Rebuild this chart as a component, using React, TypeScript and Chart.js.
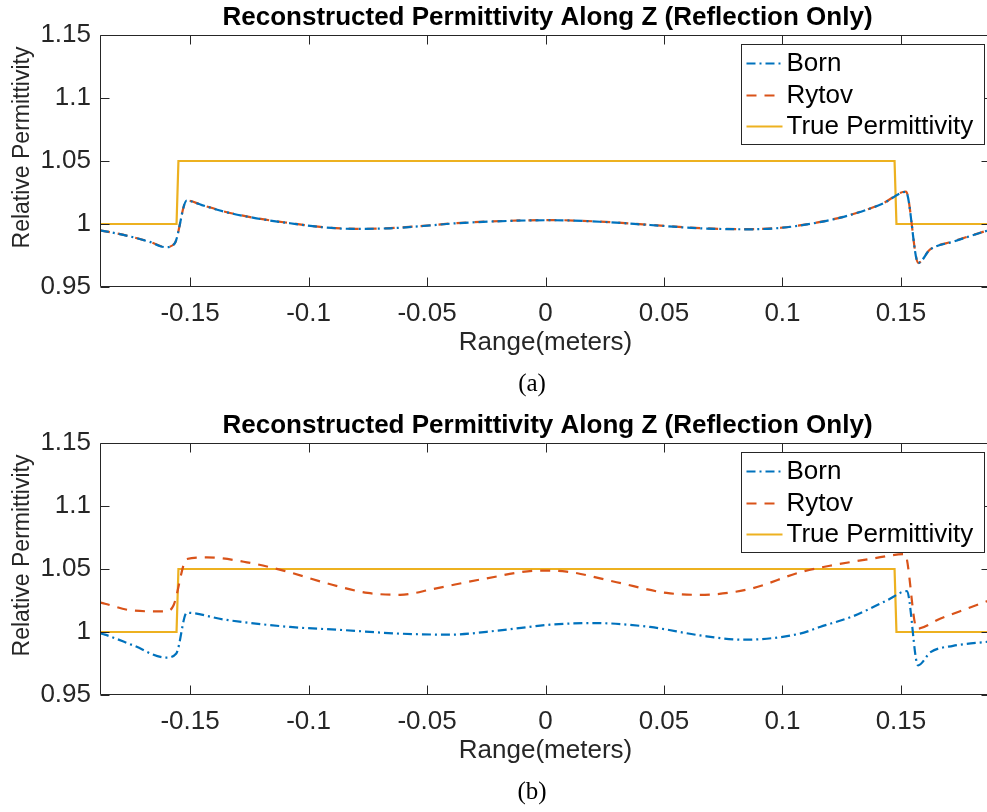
import React, { useEffect, useRef } from 'react';
import { Chart, registerables } from 'chart.js';
Chart.register(...registerables);

const SERIES_NAMES = ['Born', 'Rytov', 'True Permittivity'];
const SERIES_COLORS = ['#0072BD', '#D95319', '#EDB120'];
const CHART_TITLE = 'Reconstructed Permittivity Along Z (Reflection Only)';
const X_LABEL = 'Range(meters)';
const Y_LABEL = 'Relative Permittivity';
const X_TICKS = [-0.15, -0.1, -0.05, 0, 0.05, 0.1, 0.15];
const X_TICK_LABELS = ['-0.15', '-0.1', '-0.05', '0', '0.05', '0.1', '0.15'];
const Y_TICKS = [0.95, 1, 1.05, 1.1, 1.15];
const Y_TICK_LABELS = ['0.95', '1', '1.05', '1.1', '1.15'];
const X_MIN = -0.188;
const X_MAX = 0.188;
const Y_MIN = 0.95;
const Y_MAX = 1.15;

// Panel (a)
const zA = [-0.188, -0.181, -0.174, -0.167, -0.1603, -0.1565, -0.1514, -0.145, -0.136, -0.122, -0.1078, -0.094, -0.08, -0.0656, -0.0517, -0.0375, -0.0164, 0.002, 0.023, 0.0441, 0.0652, 0.0863, 0.1002, 0.1144, 0.1285, 0.1425, 0.1521, 0.1573, 0.1622, 0.1721, 0.188];
const bornA = [0.995, 0.9925, 0.9895, 0.9858, 0.9816, 0.9845, 1.0185, 1.015, 1.01, 1.0045, 1.0006, 0.9974, 0.9961, 0.9966, 0.9984, 1.0006, 1.0024, 1.003, 1.0018, 0.9992, 0.9966, 0.9958, 0.9971, 1.001, 1.0071, 1.0163, 1.0255, 0.969, 0.9795, 0.986, 0.9957];
const rytovA = [0.995, 0.9925, 0.9895, 0.9858, 0.9817, 0.9846, 1.0187, 1.0151, 1.0101, 1.0046, 1.0007, 0.9975, 0.9962, 0.9967, 0.9985, 1.0007, 1.0025, 1.0031, 1.0019, 0.9993, 0.9967, 0.9959, 0.9972, 1.0011, 1.0072, 1.0165, 1.0258, 0.9692, 0.9797, 0.9862, 0.9958];

// Panel (b)
const zBornB = [-0.188, -0.1859, -0.174, -0.1603, -0.1558, -0.1514, -0.136, -0.1078, -0.085, -0.0614, -0.0403, -0.0192, 0.0019, 0.0202, 0.0441, 0.0652, 0.0835, 0.1074, 0.1158, 0.1299, 0.144, 0.1525, 0.1572, 0.1625, 0.172, 0.188];
const bornB = [0.999, 0.9979, 0.9894, 0.9797, 0.983, 1.0153, 1.01, 1.004, 1.0015, 0.9987, 0.9979, 1.0013, 1.0058, 1.0071, 1.004, 0.9973, 0.9939, 0.9987, 1.004, 1.0126, 1.025, 1.0324, 0.9735, 0.984, 0.989, 0.9925];
const zRytovB = [-0.188, -0.1859, -0.174, -0.1603, -0.157, -0.1514, -0.143, -0.126, -0.1106, -0.09, -0.075, -0.0614, -0.0473, -0.0262, -0.0023, 0.0089, 0.03, 0.0511, 0.0652, 0.0863, 0.1074, 0.12, 0.1369, 0.1517, 0.1567, 0.1665, 0.1777, 0.188];
const rytovB = [1.0235, 1.0224, 1.017, 1.0163, 1.021, 1.0579, 1.0592, 1.0553, 1.0487, 1.0375, 1.031, 1.0295, 1.0342, 1.0421, 1.0487, 1.0479, 1.0395, 1.031, 1.0295, 1.0342, 1.0474, 1.0526, 1.0579, 1.0618, 1.0026, 1.0105, 1.0184, 1.0255];

// True permittivity (both panels)
const zTrue = [-0.188, -0.1557, -0.1549, 0.1473, 0.1481, 0.188];
const trueEps = [1, 1, 1.05, 1.05, 1, 1];

const FONT = '"Liberation Sans", Arial, Helvetica, sans-serif';

const toPts = (xs: number[], ys: number[]) => xs.map((x, i) => ({ x, y: ys[i] }));

function framePlugin(tag: string) {
  return {
    id: 'matlabFrame',
    afterDraw(chart: any) {
      const { ctx, chartArea } = chart;
      const { left, right, top, bottom } = chartArea;
      const xs = chart.scales.x;
      const ys = chart.scales.y;
      ctx.save();
      // axes box + inward ticks
      ctx.setLineDash([]);
      ctx.strokeStyle = '#262626';
      ctx.lineWidth = 1;
      const L = Math.round(left) + 0.5;
      const R = Math.round(right) - 0.5;
      const T = Math.round(top) + 0.5;
      const B = Math.round(bottom) - 0.5;
      ctx.beginPath();
      ctx.rect(L, T, R - L, B - T);
      X_TICKS.forEach((v) => {
        const p = Math.round(xs.getPixelForValue(v)) + 0.5;
        ctx.moveTo(p, B); ctx.lineTo(p, B - 9);
        ctx.moveTo(p, T); ctx.lineTo(p, T + 9);
      });
      Y_TICKS.forEach((v) => {
        const p = Math.round(ys.getPixelForValue(v)) + 0.5;
        ctx.moveTo(L, p); ctx.lineTo(L + 9, p);
        ctx.moveTo(R, p); ctx.lineTo(R - 9, p);
      });
      ctx.stroke();

      // title
      ctx.fillStyle = '#000';
      ctx.font = `bold 26px ${FONT}`;
      ctx.textAlign = 'center';
      ctx.textBaseline = 'alphabetic';
      ctx.fillText(CHART_TITLE, (left + right) / 2 + 2, top - 10);

      // y label
      ctx.save();
      ctx.fillStyle = '#262626';
      ctx.font = `23px ${FONT}`;
      ctx.translate(22.5, top + 112.5);
      ctx.rotate(-Math.PI / 2);
      ctx.textAlign = 'center';
      ctx.textBaseline = 'middle';
      ctx.fillText(Y_LABEL, 0, 0);
      ctx.restore();

      // legend
      const bw = 243;
      const bh = 100;
      const bx = Math.round(right) - 7 - bw + 0.5;
      const by = Math.round(top) + 9 + 0.5;
      ctx.fillStyle = '#fff';
      ctx.fillRect(bx, by, bw, bh);
      ctx.strokeStyle = '#262626';
      ctx.lineWidth = 1;
      ctx.setLineDash([]);
      ctx.strokeRect(bx, by, bw, bh);
      const rows = [19, 51, 82];
      chart.data.datasets.forEach((ds: any, i: number) => {
        const ry = by + rows[i];
        ctx.beginPath();
        ctx.strokeStyle = ds.borderColor;
        ctx.lineWidth = ds.borderWidth;
        ctx.setLineDash(ds.borderDash || []);
        ctx.moveTo(bx + 5, ry);
        ctx.lineTo(bx + 41, ry);
        ctx.stroke();
        ctx.setLineDash([]);
        ctx.fillStyle = '#000';
        ctx.font = `26px ${FONT}`;
        ctx.textAlign = 'left';
        ctx.textBaseline = 'middle';
        ctx.fillText(ds.label, bx + 45, ry);
      });

      // sub caption
      ctx.fillStyle = '#000';
      ctx.font = '25px "Liberation Serif", "DejaVu Serif", serif';
      ctx.textAlign = 'center';
      ctx.textBaseline = 'middle';
      ctx.fillText(tag, 532, bottom + 97);
      ctx.restore();
    },
  };
}

function makeConfig(born: { x: number; y: number }[], rytov: { x: number; y: number }[], tag: string): any {
  const tickLabel = (ticks: number[], labels: string[]) => (value: number) => {
    const i = ticks.findIndex((t) => Math.abs(t - value) < 1e-9);
    return i >= 0 ? labels[i] : '';
  };
  return {
    type: 'line',
    data: {
      datasets: [
        {
          label: SERIES_NAMES[0], data: born, borderColor: SERIES_COLORS[0], borderWidth: 2.2,
          borderDash: [9, 4, 2, 4], pointRadius: 0, cubicInterpolationMode: 'monotone', fill: false,
        },
        {
          label: SERIES_NAMES[1], data: rytov, borderColor: SERIES_COLORS[1], borderWidth: 2.2,
          borderDash: [10, 8], pointRadius: 0, cubicInterpolationMode: 'monotone', fill: false,
        },
        {
          label: SERIES_NAMES[2], data: toPts(zTrue, trueEps), borderColor: SERIES_COLORS[2], borderWidth: 2.2,
          pointRadius: 0, tension: 0, fill: false,
        },
      ],
    },
    options: {
      animation: false,
      responsive: false,
      maintainAspectRatio: false,
      devicePixelRatio: 1,
      layout: { padding: { top: 35, left: 0, right: 0, bottom: 0 } },
      plugins: { legend: { display: false }, title: { display: false }, tooltip: { enabled: false } },
      scales: {
        x: {
          type: 'linear', min: X_MIN, max: X_MAX,
          afterBuildTicks: (s: any) => { s.ticks = X_TICKS.map((v) => ({ value: v })); },
          afterFit: (s: any) => { s.height = 119; },
          ticks: {
            callback: tickLabel(X_TICKS, X_TICK_LABELS), autoSkip: false, maxRotation: 0, minRotation: 0,
            padding: 11, color: '#262626', font: { family: FONT, size: 26 },
          },
          grid: { display: false, drawTicks: false, tickLength: 0 },
          border: { display: false },
          title: {
            display: true, text: X_LABEL, color: '#262626', font: { family: FONT, size: 26 },
            padding: { top: 0, bottom: 47.4 },
          },
        },
        y: {
          type: 'linear', min: Y_MIN, max: Y_MAX,
          afterBuildTicks: (s: any) => { s.ticks = Y_TICKS.map((v) => ({ value: v })); },
          afterFit: (s: any) => { s.width = 100; },
          ticks: {
            callback: tickLabel(Y_TICKS, Y_TICK_LABELS), autoSkip: false,
            padding: 9, color: '#262626', font: { family: FONT, size: 26 },
          },
          grid: { display: false, drawTicks: false, tickLength: 0 },
          border: { display: false },
          title: { display: false },
        },
      },
    },
    plugins: [framePlugin(tag)],
  };
}

function Panel({ top, born, rytov, tag }: { top: number; born: any[]; rytov: any[]; tag: string }) {
  const ref = useRef<HTMLCanvasElement>(null);
  useEffect(() => {
    const chart = new Chart(ref.current as HTMLCanvasElement, makeConfig(born, rytov, tag));
    return () => chart.destroy();
  }, []);
  return (
    <canvas
      ref={ref}
      width={991}
      height={406}
      style={{ position: 'absolute', left: 0, top, width: 991, height: 406 }}
    />
  );
}

export default function App() {
  return (
    <div style={{ position: 'absolute', left: 0, top: 0, width: 987, height: 812, overflow: 'hidden', background: '#fff' }}>
      <Panel top={0} born={toPts(zA, bornA)} rytov={toPts(zA, rytovA)} tag="(a)" />
      <Panel top={408} born={toPts(zBornB, bornB)} rytov={toPts(zRytovB, rytovB)} tag="(b)" />
    </div>
  );
}
